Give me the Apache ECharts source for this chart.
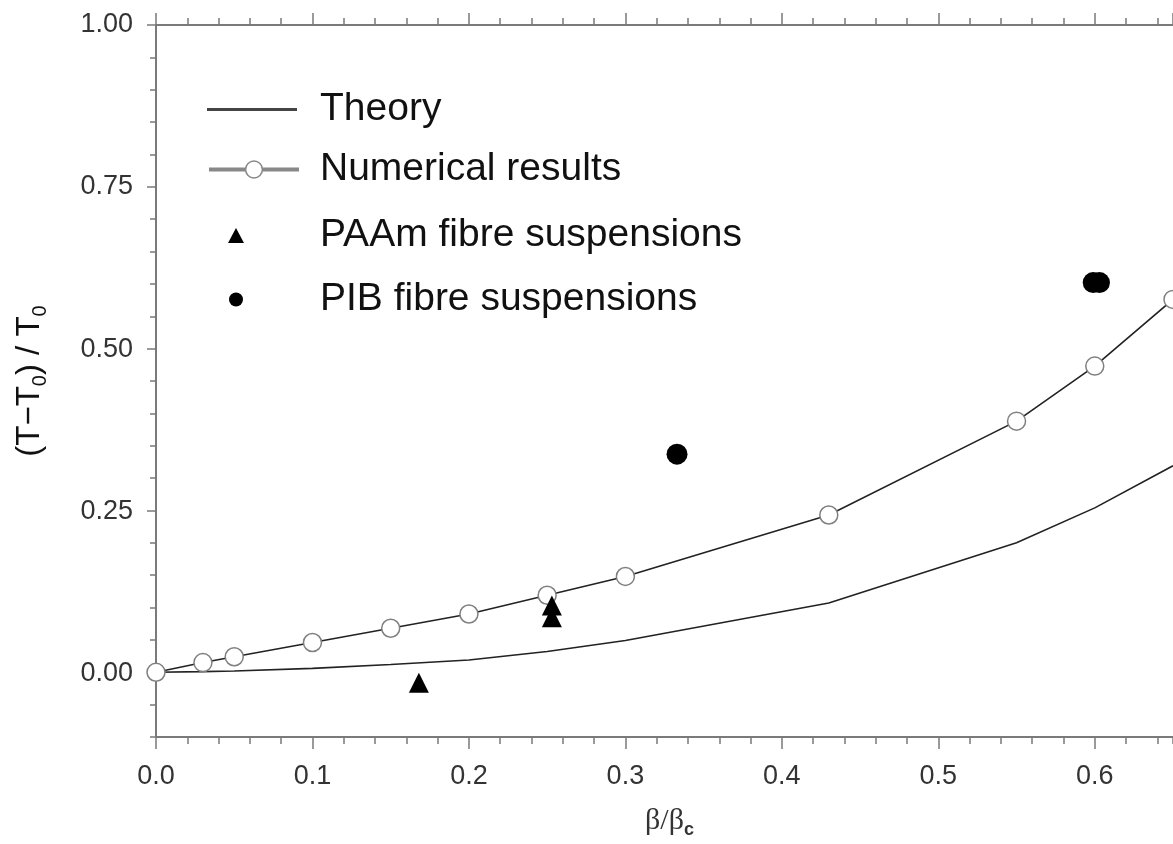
<!DOCTYPE html>
<html>
<head>
<meta charset="utf-8">
<script src="https://cdn.jsdelivr.net/npm/echarts@6/dist/echarts.min.js"></script>
<style>
html,body{margin:0;padding:0;background:#fff;}
#chart{width:1173px;height:844px;}
</style>
</head>
<body>
<div id="chart"></div>
<script>
// ---- data ----
const numericalX = [0, 0.03, 0.05, 0.10, 0.15, 0.20, 0.25, 0.30, 0.43, 0.55, 0.60, 0.65];
const numericalY = [0, 0.015, 0.024, 0.046, 0.068, 0.090, 0.119, 0.148, 0.243, 0.388, 0.473, 0.576];
const theoryX = [0, 0.03, 0.05, 0.10, 0.15, 0.20, 0.25, 0.30, 0.43, 0.55, 0.60, 0.65];
const theoryY = [0, 0.001, 0.002, 0.006, 0.012, 0.019, 0.032, 0.049, 0.107, 0.200, 0.254, 0.319];
const paamX = [0.168, 0.253, 0.253];
const paamY = [-0.016, 0.103, 0.085];
const pibX = [0.333, 0.599, 0.603];
const pibY = [0.337, 0.602, 0.602];
const xTickLabels = ['0.0', '0.1', '0.2', '0.3', '0.4', '0.5', '0.6'];
const yTickLabels = ['0.00', '0.25', '0.50', '0.75', '1.00'];
const seriesNames = ['Theory', 'Numerical results', 'PAAm fibre suspensions', 'PIB fibre suspensions'];

const pairs = (xs, ys) => xs.map((x, i) => [x, ys[i]]);

const AXIS = '#7a7a7a';
const SANS = 'Liberation Sans';
const X_MAX = 0.65;

const chart = echarts.init(document.getElementById('chart'), null, {renderer: 'canvas'});

// minor-tick axis (every 0.02) and major-tick axis (every 0.1) share one scale
function xMinor(position, withName) {
  const a = {
    gridIndex: 0, type: 'value', position: position, min: 0, max: X_MAX, interval: 0.02,
    axisLine: {show: true, onZero: false, lineStyle: {color: AXIS, width: 2}},
    axisTick: {show: true, length: 7, lineStyle: {color: AXIS, width: 1.5}},
    axisLabel: {show: false},
    splitLine: {show: false}
  };
  if (withName) {
    a.name = '{a|β/β}{s|c}';
    a.nameLocation = 'middle';
    a.nameGap = 66;
    a.nameTextStyle = {
      padding: [0, 0, 0, 10],
      rich: {
        a: {fontFamily: 'Liberation Serif', fontSize: 30, lineHeight: 30, color: '#333'},
        s: {fontFamily: SANS, fontSize: 18, fontWeight: 'bold', lineHeight: 36, verticalAlign: 'bottom', color: '#333'}
      }
    };
  }
  return a;
}
function xMajor(position, showLabels) {
  return {
    gridIndex: 0, type: 'value', position: position, min: 0, max: X_MAX, interval: 0.1,
    axisLine: {show: false, onZero: false},
    axisTick: {show: true, length: 12, lineStyle: {color: AXIS, width: 1.5}},
    axisLabel: {show: showLabels, fontSize: 27, color: '#333', fontFamily: SANS, margin: 26,
      showMaxLabel: false,
      formatter: v => xTickLabels[Math.round(v / 0.1)] || ''},
    splitLine: {show: false}
  };
}

const option = {
  animation: false,
  backgroundColor: '#fff',
  grid: [
    {left: 156, top: 25, width: 1017, height: 713, containLabel: false},
    {left: 156, top: 25, width: 1017, height: 648.18, containLabel: false}
  ],
  xAxis: [
    xMinor('bottom', true),
    xMajor('bottom', true),
    xMinor('top', false),
    xMajor('top', false),
    {gridIndex: 1, type: 'value', min: 0, max: X_MAX, show: false}
  ],
  yAxis: [
    {
      gridIndex: 0, type: 'value', min: -0.1, max: 1.0, interval: 0.05, position: 'left',
      axisLine: {show: true, onZero: false, lineStyle: {color: AXIS, width: 2}},
      axisTick: {show: true, length: 6, lineStyle: {color: AXIS, width: 1.5}},
      axisLabel: {show: false},
      splitLine: {show: false},
      name: '{a|(T−T}{s|0}{a|) / T}{s|0}',
      nameLocation: 'middle', nameGap: 106,
      nameTextStyle: {
        rich: {
          a: {fontFamily: SANS, fontSize: 33, lineHeight: 33, color: '#111'},
          s: {fontFamily: SANS, fontSize: 20, lineHeight: 40, verticalAlign: 'bottom', color: '#111'}
        }
      }
    },
    {
      gridIndex: 1, type: 'value', min: 0, max: 1.0, interval: 0.25, position: 'left',
      axisLine: {show: false, onZero: false},
      axisTick: {show: true, length: 9, lineStyle: {color: AXIS, width: 1.5}},
      axisLabel: {show: true, fontSize: 27, color: '#333', fontFamily: SANS, margin: 23,
        formatter: v => yTickLabels[Math.round(v / 0.25)] || ''},
      splitLine: {show: false}
    }
  ],
  legend: [
    {
      data: [{name: seriesNames[0], icon: 'rect'}],
      left: 207, top: 90, padding: 0, itemGap: 0, selectedMode: false,
      itemWidth: 90, itemHeight: 3,
      itemStyle: {color: '#444', borderWidth: 0},
      textStyle: {fontSize: 39, color: '#111', fontFamily: SANS, padding: [0, 0, 0, 18]}
    },
    {
      data: [seriesNames[1]],
      left: 207, top: 150, padding: 0, itemGap: 0, selectedMode: false,
      itemWidth: 90, itemHeight: 21,
      lineStyle: {color: '#888', width: 4},
      itemStyle: {color: '#fff', borderColor: '#888', borderWidth: 1.5},
      textStyle: {fontSize: 39, color: '#111', fontFamily: SANS, padding: [0, 0, 0, 16]}
    },
    {
      data: [{name: seriesNames[2], icon: 'triangle'}],
      left: 228, top: 216, padding: 0, itemGap: 0, selectedMode: false,
      itemWidth: 16, itemHeight: 15,
      itemStyle: {color: '#000', opacity: 1},
      textStyle: {fontSize: 39, color: '#111', fontFamily: SANS, padding: [0, 0, 0, 71]}
    },
    {
      data: [{name: seriesNames[3], icon: 'circle'}],
      left: 229, top: 280, padding: 0, itemGap: 0, selectedMode: false,
      itemWidth: 14, itemHeight: 14,
      itemStyle: {color: '#000', opacity: 1},
      textStyle: {fontSize: 39, color: '#111', fontFamily: SANS, padding: [0, 0, 0, 72]}
    }
  ],
  series: [
    {
      name: seriesNames[0], type: 'line', xAxisIndex: 0, yAxisIndex: 0,
      data: pairs(theoryX, theoryY),
      symbol: 'none', smooth: false,
      lineStyle: {color: '#222', width: 1.6},
      itemStyle: {color: '#444'},
      z: 2, silent: true
    },
    {
      name: seriesNames[1], type: 'line', xAxisIndex: 0, yAxisIndex: 0,
      data: pairs(numericalX, numericalY),
      symbol: 'circle', symbolSize: 18, showSymbol: true, showAllSymbol: true,
      lineStyle: {color: '#222', width: 1.6},
      itemStyle: {color: '#fff', borderColor: '#808080', borderWidth: 1.5},
      z: 3, silent: true
    },
    {
      name: seriesNames[2], type: 'scatter', xAxisIndex: 0, yAxisIndex: 0,
      data: pairs(paamX, paamY),
      symbol: 'triangle', symbolSize: 20,
      itemStyle: {color: '#000', opacity: 1},
      z: 4, silent: true
    },
    {
      name: seriesNames[3], type: 'scatter', xAxisIndex: 0, yAxisIndex: 0,
      data: pairs(pibX, pibY),
      symbol: 'circle', symbolSize: 21,
      itemStyle: {color: '#000', opacity: 1},
      z: 4, silent: true
    }
  ]
};

chart.setOption(option);
</script>
</body>
</html>
